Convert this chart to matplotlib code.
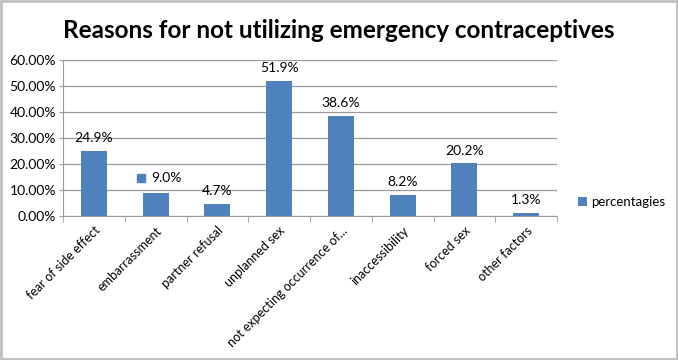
import numpy as np
from matplotlib import pyplot as plt
from matplotlib.ticker import FuncFormatter, FixedLocator
from matplotlib.patches import Rectangle

plt.rcParams['font.family'] = ['Lato', 'DejaVu Sans']

categories = ["fear of side effect", "embarrassment", "partner refusal", "unplanned sex",
              "not expecting occurrence of...", "inaccessibility", "forced sex", "other factors"]
values = [24.9, 9.0, 4.7, 51.9, 38.6, 8.2, 20.2, 1.3]
series_name = "percentagies"

bar_color = "#4F81BD"
grid_color = "#9A9A9A"

fig = plt.figure(figsize=(6.78, 3.6), dpi=100)
ax = fig.add_axes([63 / 678, 1 - 216 / 360, (557 - 63) / 678, (216 - 60) / 360])

x = np.arange(len(categories))
bars = ax.bar(x, values, width=0.42, color=bar_color, label=series_name, zorder=3)

ax.set_xlim(-0.5, len(categories) - 0.5)
ax.set_ylim(0, 60)
ax.set_yticks(np.arange(0, 61, 10))
ax.yaxis.set_major_formatter(FuncFormatter(lambda v, p: f"{v:.2f}%"))
ax.grid(axis="y", color=grid_color, linewidth=0.9, zorder=0)
ax.tick_params(axis="y", length=3, color=grid_color, labelsize=10, pad=2)

ax.set_xticks(x)
ax.set_xticklabels(categories, rotation=45, ha="right", rotation_mode="anchor", fontsize=9)
ax.tick_params(axis="x", length=0, pad=6)
ax.xaxis.set_minor_locator(FixedLocator(np.arange(-0.5, len(categories), 1)))
ax.tick_params(axis="x", which="minor", length=4, color=grid_color)

for side in ["top", "right"]:
    ax.spines[side].set_visible(False)
ax.spines["left"].set_color(grid_color)
ax.spines["bottom"].set_color(grid_color)

for i, (b, v) in enumerate(zip(bars, values)):
    if i == 1:
        # label pushed aside by a stray legend key
        ax.text(1.17, 14.6, f"{v:.1f}%", ha="center", va="center", fontsize=10)
        ax.plot([0.76], [14.6], marker="s", color=bar_color, markersize=5.5, linestyle="none")
        continue
    ax.annotate(f"{v:.1f}%", (b.get_x() + b.get_width() / 2, v), xytext=(0, 5),
                textcoords="offset points", ha="center", va="bottom", fontsize=10)

fig.legend(handles=[bars], labels=[series_name], loc="center left",
           bbox_to_anchor=(566 / 678, 1 - 202 / 360), frameon=False, fontsize=9.5,
           handlelength=0.7, handleheight=0.7, handletextpad=0.3)

fig.suptitle("Reasons for not utilizing emergency contraceptives", x=0.5, y=1 - 30 / 360,
             va="center", fontsize=17.5, fontweight="bold")

fig.patches.append(Rectangle((0.002, 0.003), 0.996, 0.994, transform=fig.transFigure,
                             fill=False, edgecolor="#BFBFBF", linewidth=2))

fig.savefig("out.png", dpi=100)
